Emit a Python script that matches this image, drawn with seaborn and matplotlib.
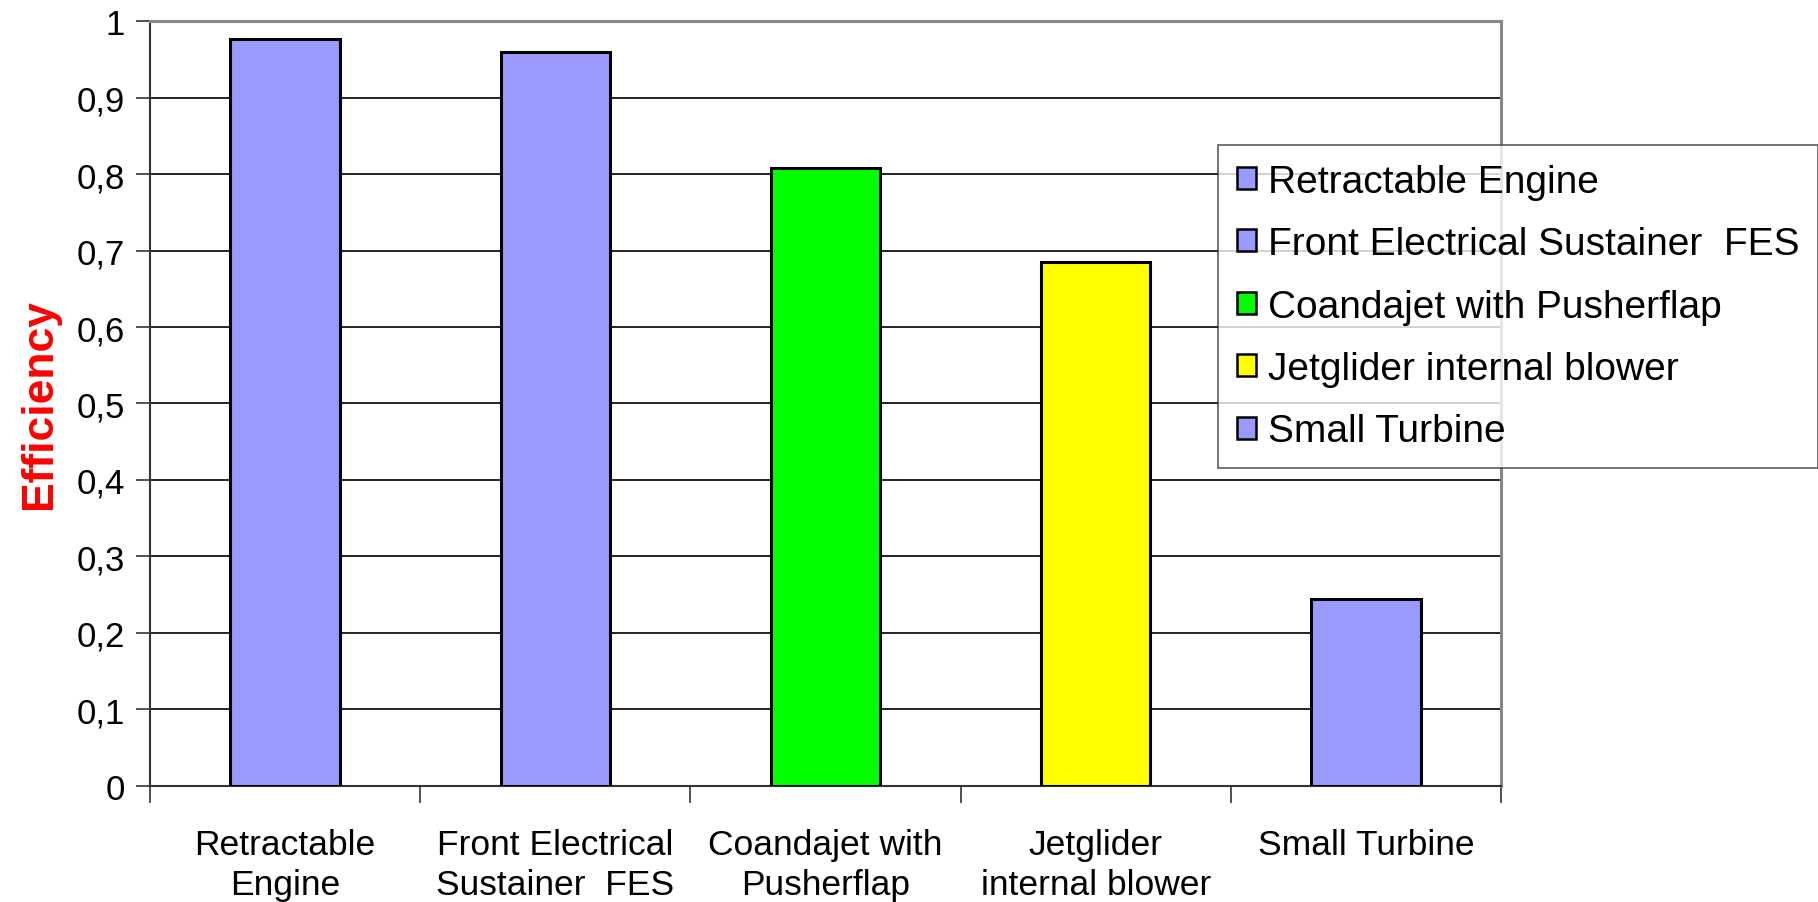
import numpy as np
import pandas as pd
import seaborn as sns
import matplotlib.pyplot as plt
from matplotlib.patches import Patch

categories = ["Retractable Engine", "Front Electrical Sustainer  FES",
              "Coandajet with Pusherflap", "Jetglider internal blower", "Small Turbine"]
tick_labels = ["Retractable\nEngine", "Front Electrical\nSustainer  FES",
               "Coandajet with\nPusherflap", "Jetglider\ninternal blower", "Small Turbine"]
efficiency = [0.977, 0.960, 0.808, 0.685, 0.245]
bar_colors = ["#9999FF", "#9999FF", "#00FF00", "#FFFF00", "#9999FF"]

sns.set_style("white")
plt.rcParams['font.family'] = ['Liberation Sans', 'DejaVu Sans']
plt.rcParams['text.color'] = 'black'
plt.rcParams['xtick.color'] = 'black'
plt.rcParams['ytick.color'] = 'black'
plt.rcParams['axes.labelcolor'] = 'black'

df = pd.DataFrame({"System": categories, "Efficiency": efficiency})

fig = plt.figure(figsize=(18.18, 9.03), dpi=100)
ax = fig.add_axes([0.0825, 0.1285, 0.7431, 0.8471])

sns.barplot(data=df, x="System", y="Efficiency", hue="System", palette=bar_colors,
            width=0.405, edgecolor="black", linewidth=2.2, saturation=1,
            legend=False, ax=ax, zorder=3)

ax.set_xlim(-0.5, len(categories) - 0.5)
ax.set_ylim(0, 1)

# y axis: comma decimals, gridlines every 0.1
yt = np.round(np.arange(0, 1.01, 0.1), 1)
ax.set_yticks(yt)
ax.set_yticklabels(["0" if v == 0 else "1" if v == 1 else f"{v:.1f}".replace(".", ",") for v in yt],
                   fontsize=25)
ax.yaxis.grid(True, color="black", linewidth=1.2, zorder=0)
ax.set_axisbelow(True)
ax.tick_params(axis="y", direction="out", length=10, width=1.2, color="#333333", pad=8, left=True)

# x axis: ticks at category boundaries, labels centred
ax.set_xticks(np.arange(-0.5, len(categories), 1.0))
ax.set_xticklabels([])
ax.set_xticks(np.arange(len(categories)), minor=True)
ax.set_xticklabels(tick_labels, minor=True, fontsize=25.5, linespacing=1.3)
ax.tick_params(axis="x", which="major", direction="out", length=12, width=1.2, color="#333333", bottom=True)
ax.tick_params(axis="x", which="minor", length=0, pad=30)

ax.set_xlabel("")
ax.set_ylabel("Efficiency", color="#FF0000", fontsize=32, fontweight="bold", labelpad=12)

for side in ["top", "right"]:
    ax.spines[side].set_visible(True)
    ax.spines[side].set_color("#888888")
    ax.spines[side].set_linewidth(2.2)
ax.spines["left"].set_color("#333333")
ax.spines["left"].set_linewidth(1.5)
ax.spines["bottom"].set_color("#333333")
ax.spines["bottom"].set_linewidth(1.5)

handles = [Patch(facecolor=c, edgecolor="black", linewidth=1.8) for c in bar_colors]
leg = fig.legend(handles, categories, loc="upper left", bbox_to_anchor=(1218 / 1818, 1 - 146 / 903),
                 fontsize=28, frameon=True, fancybox=False, edgecolor="#333333",
                 handlelength=0.5, handleheight=0.5, handletextpad=0.3,
                 labelspacing=0.68, borderpad=0.48, borderaxespad=0)
leg.get_frame().set_linewidth(1.2)

fig.savefig("out.png", dpi=100)
